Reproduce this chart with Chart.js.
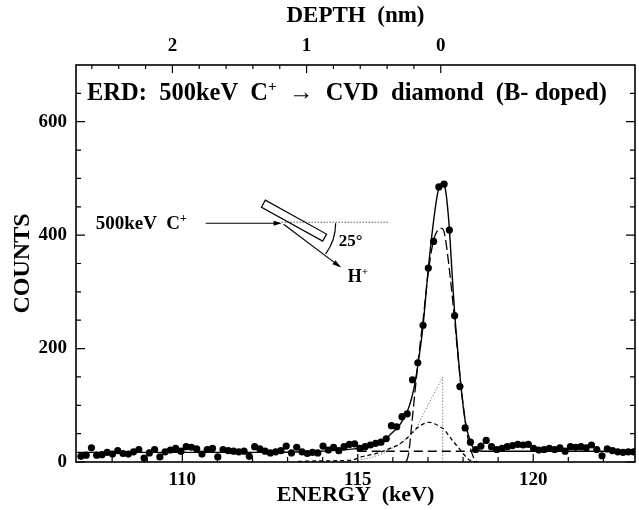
<!DOCTYPE html>
<html><head><meta charset="utf-8">
<script src="https://cdn.jsdelivr.net/npm/chart.js@4.4.1/dist/chart.umd.min.js"></script>
<style>html,body{margin:0;padding:0;background:#fff}#c{display:block}</style>
</head><body>
<canvas id="c" width="639" height="510"></canvas>
<script>
// ---- measured data points (energy in keV, counts) ----
const energy = [107.11,107.26,107.41,107.56,107.71,107.86,108.01,108.16,108.31,108.46,
108.61,108.76,108.91,109.06,109.21,109.36,109.51,109.66,109.81,109.96,
110.11,110.26,110.41,110.56,110.71,110.86,111.01,111.16,111.31,111.46,
111.61,111.76,111.91,112.06,112.21,112.36,112.51,112.66,112.81,112.96,
113.11,113.26,113.41,113.56,113.71,113.86,114.01,114.16,114.31,114.46,
114.61,114.76,114.91,115.06,115.21,115.36,115.51,115.66,115.81,115.96,
116.11,116.26,116.41,116.56,116.71,116.86,117.01,117.16,117.31,117.46,
117.61,117.76,117.91,118.06,118.21,118.36,118.51,118.66,118.81,118.96,
119.11,119.26,119.41,119.56,119.71,119.86,120.01,120.16,120.31,120.46,
120.61,120.76,120.91,121.06,121.21,121.36,121.51,121.66,121.81,121.96,
122.11,122.26,122.41,122.56,122.71,122.86];
const counts = [10,12,25,12,13,17,14,20,15,14,
18,22,7,16,22,9,18,21,24,19,
27,26,23,14,22,24,9,22,20,19,
18,19,10,27,23,19,16,18,20,28,
16,26,18,15,17,16,28,21,26,20,
27,31,32,24,27,30,33,35,41,64,
62,80,85,145,175,241,342,389,485,490,
409,258,133,60,35,22,28,38,27,22,
24,27,29,31,30,31,24,21,22,24,
22,25,19,27,26,27,25,30,22,11,
23,20,18,17,18,18];

// ---- fitted curves ----
const fitEnergy = [106.97,112.0,113.5,114.5,115.0,115.3,115.58,115.8,115.95,116.2,116.43,116.6,116.71,116.86,117.0,117.15,117.28,117.4,117.5,117.6,117.68,117.76,117.85,117.93,118.0,118.07,118.15,118.27,118.4,118.6,120.0,122.9];
const fitCounts = [17,17,18,21,24,28,34,41,50,66,92,130,170,240,335,420,475,492,480,420,340,263,195,140,100,69,48,27,21,19,19,19];

const mainEnergy = [116.38,116.45,116.52,116.6,116.69,116.78,116.86,117.0,117.15,117.3,117.4,117.48,117.6,117.68,117.76,117.85,117.93,118.05,118.13,118.25,118.33,118.4];
const mainCounts = [0,15,55,105,160,210,250,330,388,410,412,400,345,300,250,190,140,78,45,16,4,0];

const broadEnergy = [113.3,114.0,114.8,115.1,115.4,115.58,115.8,116.0,116.15,116.4,116.6,116.8,117.04,117.2,117.35,117.47,117.6,117.75,117.85,118.0,118.1,118.2,118.3,118.45];
const broadCounts = [1,2,3,9,13,16,21,26,30,42,55,65,70,67,62,57,46,34,27,15,8,3,1,0];

const surfEnergy = [115.0,115.4,115.77,116.2,116.62,117.0,117.42,117.42];
const surfCounts = [3,8,16,32,54,100,150,0];

const bgEnergy = [115.0,118.4];
const bgCounts = [19,19];

// ---- axes ----
const energyMin = 106.97, energyMax = 122.9;
const countMin = 0, countMax = 700;
const energyTicks = [107,108,109,110,111,112,113,114,115,116,117,118,119,120,121,122];
const energyLabels = [110,115,120];
const countTicks = [0,50,100,150,200,250,300,350,400,450,500,550,600,650];
const countLabels = [0,200,400,600];
const depthTicks = [0,0.2,0.4,0.6,0.8,1,1.2,1.4,1.6,1.8,2,2.2,2.4,2.6];
const depthLabels = [0,1,2];
const surfaceEnergy = 117.365;   // keV at depth 0
const keVPerNm = 3.824;

const SERIF = '"Liberation Serif", "Times New Roman", serif';
const pts = (xs, ys) => xs.map((x,i)=>({x, y: ys[i]}));

const decor = {
  id: 'decor',
  afterDraw(chart) {
    const ctx = chart.ctx, ca = chart.chartArea;
    const sx = chart.scales.x, sy = chart.scales.y, st = chart.scales.xTop;
    ctx.save();
    ctx.strokeStyle = '#000';
    ctx.lineWidth = 1.6;
    ctx.strokeRect(ca.left, ca.top, ca.right - ca.left, ca.bottom - ca.top);
    ctx.lineWidth = 1.2;
    ctx.beginPath();
    energyTicks.forEach(v => {
      const p = sx.getPixelForValue(v);
      if (p <= ca.left + 2) return;
      const L = energyLabels.includes(v) ? 8 : 5;
      ctx.moveTo(p, ca.bottom); ctx.lineTo(p, ca.bottom - L);
    });
    depthTicks.forEach(v => {
      const p = st.getPixelForValue(v);
      const L = depthLabels.includes(v) ? 8 : 4;
      ctx.moveTo(p, ca.top); ctx.lineTo(p, ca.top + L);
    });
    countTicks.forEach(v => {
      const p = sy.getPixelForValue(v);
      const L = countLabels.includes(v) ? 9 : 5;
      ctx.moveTo(ca.left, p); ctx.lineTo(ca.left + L, p);
      ctx.moveTo(ca.right, p); ctx.lineTo(ca.right - L, p);
    });
    ctx.stroke();

    // header text
    ctx.fillStyle = '#000';
    ctx.textBaseline = 'alphabetic';
    const rich = (x, y, size, parts) => {
      parts.forEach(([t, sup]) => {
        const s = sup ? size * 0.62 : size;
        ctx.font = 'bold ' + s + 'px ' + SERIF;
        ctx.fillText(t, x, sup ? y - size * 0.38 : y);
        x += ctx.measureText(t).width;
      });
      return x;
    };
    rich(ca.left + 11, ca.top + 35, 24.5, [['ERD:  500keV  C'], ['+', true], ['  \u2192  CVD  diamond  (B- doped)']]);

    // experiment sketch, anchored at the beam impact point
    const ax = sx.getPixelForValue(112.83), ay = sy.getPixelForValue(421);
    rich(ax - 186, ay + 6, 19, [['500keV  C'], ['+', true]]);
    ctx.lineWidth = 1.2;
    ctx.beginPath(); ctx.moveTo(ax - 76, ay); ctx.lineTo(ax - 2, ay); ctx.stroke();
    ctx.beginPath(); ctx.moveTo(ax, ay); ctx.lineTo(ax - 8, ay - 2.5); ctx.lineTo(ax - 8, ay + 2.5); ctx.closePath(); ctx.fill();
    // sample slab
    ctx.save();
    ctx.translate(ax + 8, ay - 5);
    ctx.rotate(29 * Math.PI / 180);
    ctx.strokeRect(-30, -4, 70, 8);
    ctx.restore();
    // dotted surface line
    ctx.save(); ctx.setLineDash([1, 2]); ctx.lineWidth = 1;
    ctx.beginPath(); ctx.moveTo(ax, ay - 1); ctx.lineTo(ax + 107, ay - 1); ctx.stroke(); ctx.restore();
    // recoil direction
    const ang = 37 * Math.PI / 180, len = 70;
    const ex = ax + 2 + len * Math.cos(ang), ey = ay + 1 + len * Math.sin(ang);
    ctx.beginPath(); ctx.moveTo(ax + 2, ay + 1); ctx.lineTo(ex, ey); ctx.stroke();
    ctx.save(); ctx.translate(ex, ey); ctx.rotate(ang);
    ctx.beginPath(); ctx.moveTo(2, 0); ctx.lineTo(-7, -2.5); ctx.lineTo(-7, 2.5); ctx.closePath(); ctx.fill();
    ctx.restore();
    // angle arc
    ctx.beginPath(); ctx.arc(ax + 2, ay, 52, 0, 36 * Math.PI / 180); ctx.stroke();
    rich(ax + 57, ay + 23, 17, [['25\u00B0']]);
    rich(ax + 66, ay + 59, 18, [['H'], ['+', true]]);
    ctx.restore();
  }
};

const tickFont = {family: SERIF, size: 19, weight: 'bold'};

new Chart(document.getElementById('c'), {
  type: 'line',
  data: {
    datasets: [
      {label:'data', data: pts(energy, counts), showLine:false, pointRadius:3.6, pointBackgroundColor:'#000', pointBorderWidth:0, order:0},
      {label:'fit', data: pts(fitEnergy, fitCounts), borderColor:'#000', borderWidth:1.4, pointRadius:0, cubicInterpolationMode:'monotone', order:1},
      {label:'main', data: pts(mainEnergy, mainCounts), borderColor:'#000', borderWidth:1.3, borderDash:[10,4], pointRadius:0, cubicInterpolationMode:'monotone', order:2},
      {label:'broad', data: pts(broadEnergy, broadCounts), borderColor:'#000', borderWidth:1.3, borderDash:[4,3], pointRadius:0, cubicInterpolationMode:'monotone', order:3},
      {label:'surface', data: pts(surfEnergy, surfCounts), borderColor:'#555', borderWidth:1, borderDash:[1,2], pointRadius:0, tension:0, order:4},
      {label:'background', data: pts(bgEnergy, bgCounts), borderColor:'#000', borderWidth:1.4, borderDash:[9,5], pointRadius:0, order:5}
    ]
  },
  options: {
    responsive: false,
    animation: false,
    events: [],
    layout: {padding: {left: 0, right: 1, top: 0, bottom: 0}},
    plugins: {legend: {display:false}, tooltip: {enabled:false}},
    scales: {
      x: {
        type:'linear', position:'bottom', min: energyMin, max: energyMax,
        grid:{display:false, drawTicks:false}, border:{display:false},
        afterBuildTicks: s => { s.ticks = energyTicks.map(v => ({value:v})); },
        ticks:{autoSkip:false, maxRotation:0, padding:7, color:'#000', font: tickFont,
          callback: v => energyLabels.includes(v) ? String(v) : ''},
        title:{display:true, text:'ENERGY  (keV)', color:'#000', font:{family:SERIF, size:22, weight:'bold'}, padding:{top:0,bottom:1}},
        afterFit: s => { s.height = 48; }
      },
      xTop: {
        type:'linear', position:'top', reverse:true,
        min: (surfaceEnergy - energyMax) / keVPerNm, max: (surfaceEnergy - energyMin) / keVPerNm,
        grid:{display:false, drawTicks:false}, border:{display:false},
        afterBuildTicks: s => { s.ticks = depthTicks.map(v => ({value:v})); },
        ticks:{autoSkip:false, maxRotation:0, padding:8, color:'#000', font: tickFont,
          callback: v => depthLabels.includes(Math.round(v*10)/10) ? String(Math.round(v)) : ''},
        title:{display:true, text:'DEPTH  (nm)', color:'#000', font:{family:SERIF, size:23, weight:'bold'}, padding:{top:2,bottom:0}},
        afterFit: s => { s.height = 65; }
      },
      y: {
        type:'linear', position:'left', min: countMin, max: countMax,
        grid:{display:false, drawTicks:false}, border:{display:false},
        afterBuildTicks: s => { s.ticks = countTicks.map(v => ({value:v})); },
        ticks:{autoSkip:false, padding:9, color:'#000', font: tickFont,
          callback: v => countLabels.includes(v) ? String(v) : ''},
        title:{display:true, text:'COUNTS', color:'#000', font:{family:SERIF, size:24, weight:'bold'}, padding:{top:8,bottom:0}},
        afterFit: s => { s.width = 76; }
      }
    }
  },
  plugins: [decor]
});
</script>
</body></html>
